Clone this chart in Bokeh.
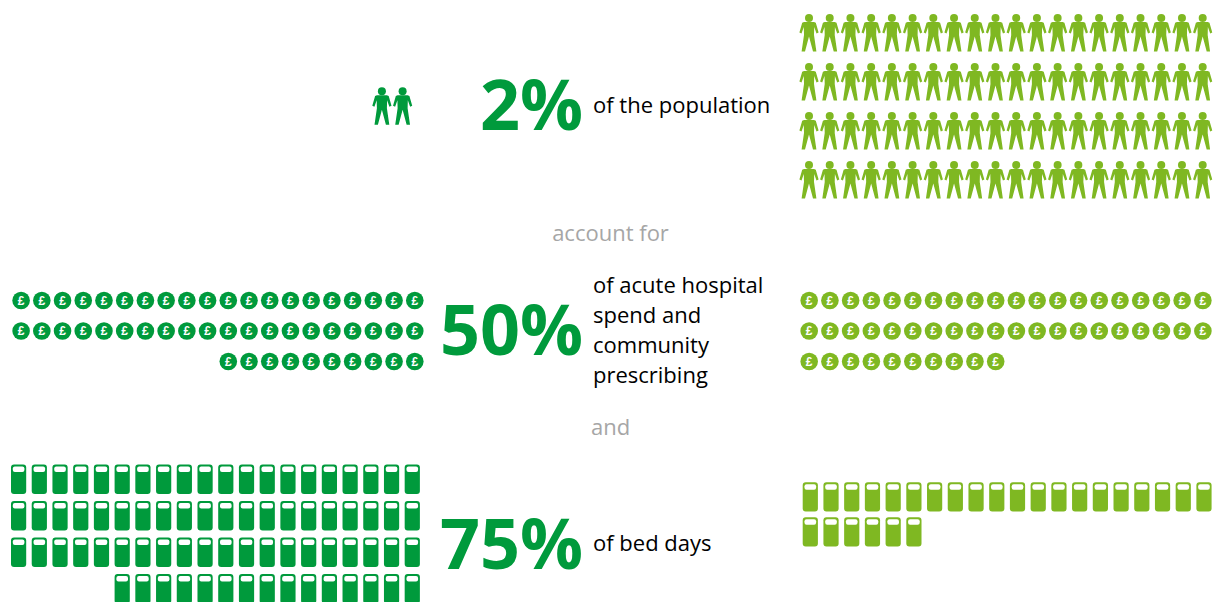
from bokeh.plotting import figure
from bokeh.embed import file_html
from bokeh.resources import INLINE
from bokeh.core.properties import value

# --- data: how many icons in each row of each group
people_left_rows = [2]
people_right_rows = [20, 20, 20, 20]
pounds_left_rows = [20, 20, 10]
pounds_right_rows = [20, 20, 10]
beds_left_rows = [20, 20, 20, 15]
beds_right_rows = [20, 6]
percent_labels = ["2%", "50%", "75%"]
desc_labels = [["of the population"],
               ["of acute hospital", "spend and", "community", "prescribing"],
               ["of bed days"]]
link_labels = ["account for", "and"]

DARK = "#009a3c"
LIGHT = "#7fb822"
GREY = "#a6a6a6"
FONT = "Open Sans"
PITCH = 20.72

p = figure(width=1215, height=602, x_range=(0, 1215), y_range=(602, 0),
           output_backend="svg", toolbar_location=None,
           min_border=0, outline_line_color=None)
p.axis.visible = False
p.grid.visible = False
p.background_fill_color = "white"
p.border_fill_color = "white"


def centers(rows, x_first, y_first, y_pitch, right_align=False):
    n_max = max(rows)
    out = []
    for r, n in enumerate(rows):
        start = n_max - n if right_align else 0
        for i in range(n):
            out.append((x_first + (start + i) * PITCH, y_first + r * y_pitch))
    return out


BODY = [(-5, 4.0), (5, 4.0), (6.8, 4.8), (9.6, 14.6), (7.5, 15.6), (5.2, 9.0), (5.0, 17),
        (7.4, 33.6), (4.0, 33.6), (0, 18.5), (-4.0, 33.6), (-7.4, 33.6), (-5.0, 17),
        (-5.2, 9.0), (-7.5, 15.6), (-9.6, 14.6), (-6.8, 4.8)]


def people(pts, color):
    p.patches([[x + dx for dx, _ in BODY] for x, _ in pts],
              [[y + dy for _, dy in BODY] for _, y in pts],
              fill_color=color, line_color=None)
    p.circle([a for a, _ in pts], [b for _, b in pts], radius=4.0,
             fill_color=color, line_color=None)


def pounds(pts, color):
    xs = [a for a, _ in pts]
    ys = [b for _, b in pts]
    p.circle(xs, ys, radius=8.8, fill_color=color, line_color=None)
    p.text(xs, ys, text=["£"] * len(pts), text_color="white", text_align="center",
           text_baseline="middle", text_font=value("Liberation Sans"), text_font_style="bold",
           text_font_size="12px")


def beds(pts, color, w=15.2, h=29.4):
    xs = [a for a, _ in pts]
    ys = [b for _, b in pts]
    p.quad(left=xs, right=[a + w for a in xs], top=ys, bottom=[b + h for b in ys],
           fill_color=color, line_color=None, border_radius=3)
    p.quad(left=[a + 1.8 for a in xs], right=[a + w - 1.8 for a in xs],
           top=[b + 2.0 for b in ys], bottom=[b + 7.6 for b in ys],
           fill_color="white", line_color=None, border_radius=2)


people(centers(people_left_rows, 381.4, 90.7, 49), DARK)
people(centers(people_right_rows, 808.5, 17.5, 49), LIGHT)
pounds(centers(pounds_left_rows, 20.6, 300, 30.5, True), DARK)
pounds(centers(pounds_right_rows, 808.7, 300, 30.5), LIGHT)
beds(centers(beds_left_rows, 10.5, 464, 36.5, True), DARK)
beds(centers(beds_right_rows, 802.2, 481.7, 35), LIGHT)

p.text([582.5] * 3, [102.5, 327.5, 541.5], text=percent_labels, text_color=DARK, text_align="right",
       text_baseline="middle", text_font=value(FONT), text_font_style="bold",
       text_font_size="70px")

desc_y = [[103], [283, 313, 343, 373], [541]]
for lines, ys in zip(desc_labels, desc_y):
    p.text([592.5] * len(lines), ys, text=lines, text_color="black", text_align="left",
           text_baseline="middle", text_font=value(FONT), text_font_size="22px")

p.text([610, 610], [231, 425], text=link_labels, text_color=GREY, text_align="center",
       text_baseline="middle", text_font=value(FONT), text_font_size="22px")

open("out.html", "w").write(file_html(p, INLINE))
